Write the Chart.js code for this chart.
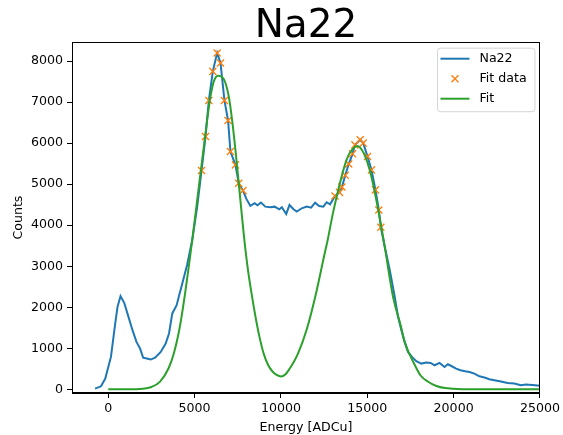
<!DOCTYPE html>
<html><head><meta charset="utf-8">
<script src="https://cdn.jsdelivr.net/npm/chart.js@4.4.0/dist/chart.umd.min.js"></script>
<style>html,body{margin:0;padding:0;background:#fff;}canvas{display:block;}</style>
</head><body>
<canvas id="c" width="563" height="435"></canvas>
<script>
// ---- Measured spectrum (Na22) ----
const na22X = [-767,-420,-173,155,404,536,710,923,1171,1403,1634,1845,2018,2230,2460,2710,3037,3325,3518,3708,3960,4133,4287,4575,4863,5150,5401,5632,5825,6055,6305,6500,6728,6938,7075,7364,7555,7805,8000,8229,8478,8633,8842,9094,9382,9631,9902,10052,10306,10496,10727,10917,11205,11494,11747,11978,12209,12457,12647,12843,13131,13390,13530,13725,13925,14147,14285,14591,14764,15013,15243,15473,15669,15784,16012,16303,16591,16782,16974,17166,17359,17589,17839,18127,18416,18668,18899,19186,19475,19666,19896,20144,20397,20664,20917,21205,21494,21782,22070,22359,22740,23125,23512,23893,24181,24567,25087];
const na22Y = [17,73,261,790,1604,2010,2271,2108,1766,1441,1156,993,773,749,725,773,911,1116,1360,1849,2051,2337,2581,3050,3638,4452,5331,6161,7040,7749,8198,7953,7040,6552,5796,5470,5023,4843,4640,4469,4535,4486,4550,4452,4437,4452,4388,4437,4274,4493,4388,4330,4412,4452,4428,4550,4469,4452,4559,4510,4713,4800,4930,5215,5490,5739,5958,6081,6000,5673,5348,4860,4371,3949,3475,2906,2250,1766,1441,1156,911,790,684,627,651,643,586,643,545,611,562,505,464,440,423,383,317,286,244,220,188,154,139,98,115,105,81];

// ---- Points used for the fit ----
const fitDataX = [5401,5632,5825,6055,6305,6500,6728,6938,7075,7364,7555,7805,13131,13390,13530,13725,13925,14147,14285,14591,14764,15013,15243,15473,15669,15784];
const fitDataY = [5331,6161,7040,7749,8198,7953,7040,6552,5796,5470,5023,4843,4713,4800,4930,5215,5490,5739,5958,6081,6000,5673,5348,4860,4371,3949];

// ---- Fit curve ----
const fitX = [0,1000,2000,2500,3000,3500,3800,4100,4400,4863,5152,5440,5728,5921,6113,6361,6592,6788,6978,7170,7364,7555,7745,7882,8100,8300,8500,8750,9000,9250,9500,9750,10000,10250,10500,10750,11000,11500,12000,12500,12706,13000,13500,13800,14000,14420,14800,15200,15600,16000,16494,16932,17166,17743,18100,18500,19000,19500,20500,25000];
const fitY = [0,1,15,57,187,520,880,1420,2200,3638,4615,5592,6569,7138,7504,7643,7611,7465,7138,6569,5836,5023,4208,3638,2880,2330,1830,1290,870,600,440,350,310,360,500,670,880,1470,2280,3250,3638,4270,5165,5592,5770,5930,5750,5250,4450,3500,2250,1560,1150,600,330,190,80,30,3,0];

const xTicks = [0,5000,10000,15000,20000,25000];
const yTicks = [0,1000,2000,3000,4000,5000,6000,7000,8000];
const seriesLabels = ['Na22','Fit data','Fit'];
const colors = ['#1f77b4','#ff7f0e','#2ca02c'];

const pts = (xs, ys) => xs.map((x, i) => ({x: x, y: ys[i]}));
const FONT = '"DejaVu Sans", sans-serif';

const framePlugin = {
  id: 'frame',
  afterDatasetsDraw(chart) {
    const {ctx, chartArea: a} = chart;
    ctx.save();
    ctx.strokeStyle = '#000';
    ctx.lineWidth = 1;
    ctx.strokeRect(Math.round(a.left) + 0.5, Math.round(a.top) + 0.5, Math.round(a.right - a.left) - 1, Math.round(a.bottom - a.top) - 1);
    ctx.restore();
  },
  afterDraw(chart) {
    const {ctx, chartArea: a} = chart;
    const ds = chart.data.datasets;
    ctx.save();
    const bx = a.right - 102.5, by = a.top + 6, bw = 97.5, bh = 63.5, r = 3;
    ctx.beginPath();
    ctx.moveTo(bx + r, by);
    ctx.arcTo(bx + bw, by, bx + bw, by + bh, r);
    ctx.arcTo(bx + bw, by + bh, bx, by + bh, r);
    ctx.arcTo(bx, by + bh, bx, by, r);
    ctx.arcTo(bx, by, bx + bw, by, r);
    ctx.closePath();
    ctx.fillStyle = 'rgba(255,255,255,0.8)';
    ctx.fill();
    ctx.strokeStyle = '#d5d5d5';
    ctx.lineWidth = 1;
    ctx.stroke();
    ctx.font = '12.6px ' + FONT;
    ctx.textBaseline = 'middle';
    ctx.textAlign = 'left';
    for (let i = 0; i < ds.length; i++) {
      const y = by + 10.5 + i * 20;
      const x0 = bx + 3, x1 = bx + 32;
      ctx.strokeStyle = ds[i].borderColor;
      if (ds[i].showLine) {
        ctx.lineWidth = 2;
        ctx.beginPath(); ctx.moveTo(x0, y); ctx.lineTo(x1, y); ctx.stroke();
      } else {
        const cx = (x0 + x1) / 2, h = 3.5;
        ctx.lineWidth = 1.4;
        ctx.beginPath();
        ctx.moveTo(cx - h, y - h); ctx.lineTo(cx + h, y + h);
        ctx.moveTo(cx - h, y + h); ctx.lineTo(cx + h, y - h);
        ctx.stroke();
      }
      ctx.fillStyle = '#000';
      ctx.fillText(ds[i].label, bx + 42, y);
    }
    ctx.restore();
  }
};

new Chart(document.getElementById('c'), {
  type: 'scatter',
  data: {
    datasets: [
      {label: seriesLabels[0], data: pts(na22X, na22Y), showLine: true, borderColor: colors[0], backgroundColor: colors[0], borderWidth: 2, pointRadius: 0, order: 3},
      {label: seriesLabels[1], data: pts(fitDataX, fitDataY), showLine: false, borderColor: colors[1], backgroundColor: colors[1], pointStyle: 'crossRot', pointRadius: 5, pointBorderWidth: 1.4, borderWidth: 1.4, order: 2},
      {label: seriesLabels[2], data: pts(fitX, fitY), showLine: true, cubicInterpolationMode: 'monotone', borderColor: colors[2], backgroundColor: colors[2], borderWidth: 2, pointRadius: 0, order: 1}
    ]
  },
  options: {
    responsive: false,
    animation: false,
    devicePixelRatio: 1,
    layout: {padding: {left: 0, right: 20, top: 0, bottom: 0}},
    plugins: {
      legend: {display: false},
      tooltip: {enabled: false},
      title: {
        display: true, text: 'Na22', fullSize: false, color: '#000',
        font: {family: FONT, size: 39, weight: 'normal', lineHeight: 0.8},
        padding: {top: 11, bottom: 0}
      }
    },
    scales: {
      x: {
        type: 'linear', min: -2100, max: 25000,
        afterBuildTicks: s => { s.ticks = xTicks.map(v => ({value: v})); },
        afterFit: s => { s.height = 42; },
        ticks: {color: '#000', font: {family: FONT, size: 12.6}, padding: 3, maxRotation: 0, callback: v => String(v)},
        grid: {display: true, drawOnChartArea: false, drawTicks: true, tickLength: 5, tickColor: '#000', tickWidth: 1},
        border: {display: true, color: '#000', width: 1},
        title: {display: true, text: 'Energy [ADCu]', color: '#000', font: {family: FONT, size: 12.6, lineHeight: 1}, padding: {top: 0, bottom: 1}}
      },
      y: {
        type: 'linear', min: -90, max: 8460,
        afterBuildTicks: s => { s.ticks = yTicks.map(v => ({value: v})); },
        afterFit: s => { s.width = 72; },
        ticks: {color: '#000', font: {family: FONT, size: 12.6}, padding: 4, callback: v => String(v)},
        grid: {display: true, drawOnChartArea: false, drawTicks: true, tickLength: 5, tickColor: '#000', tickWidth: 1},
        border: {display: true, color: '#000', width: 1},
        title: {display: true, text: 'Counts', color: '#000', font: {family: FONT, size: 12.6, lineHeight: 1}, padding: {top: 12, bottom: 0}}
      }
    }
  },
  plugins: [framePlugin]
});
</script>
</body></html>
